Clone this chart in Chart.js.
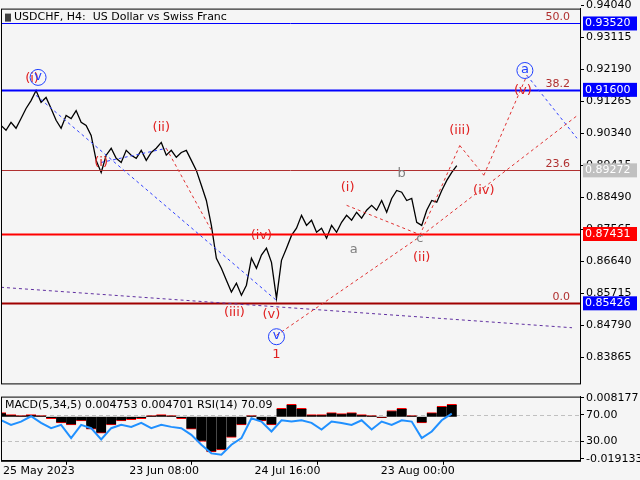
<!DOCTYPE html>
<html><head><meta charset="utf-8">
<script src="https://cdn.jsdelivr.net/npm/chart.js"></script>
<style>
body{margin:0;background:#f5f5f5;width:640px;height:480px;overflow:hidden;font-family:"DejaVu Sans"}
#c1{position:absolute;left:0;top:0}
#c2{position:absolute;left:0;top:388px}
</style></head><body>
<canvas id="c1" width="640" height="392"></canvas>
<canvas id="c2" width="640" height="92"></canvas>
<script>
const title = "USDCHF, H4:  US Dollar vs Swiss Franc";
const priceX = [];
for (let i = 0; i <= 455; i += 5) priceX.push(i);
const closes = [0.9057,0.9043,0.9066,0.9049,0.9077,0.9106,0.9129,0.9158,0.9124,0.9138,0.9106,0.9072,0.9049,0.9086,0.9077,0.9100,0.9066,0.9057,0.9028,0.8956,0.8921,0.8971,0.8991,0.8962,0.8950,0.8985,0.8971,0.8962,0.8985,0.8956,0.8979,0.8991,0.9008,0.8971,0.8985,0.8965,0.8979,0.8985,0.8956,0.8927,0.8884,0.8840,0.8768,0.8673,0.8644,0.8609,0.8575,0.8601,0.8566,0.8595,0.8673,0.8644,0.8682,0.8702,0.8661,0.8557,0.8667,0.8702,0.8739,0.8760,0.8797,0.8768,0.8783,0.8748,0.8760,0.8731,0.8768,0.8748,0.8777,0.8797,0.8783,0.8806,0.8789,0.8812,0.8826,0.8812,0.8840,0.8806,0.8846,0.8869,0.8864,0.8840,0.8846,0.8777,0.8768,0.8812,0.8840,0.8835,0.8869,0.8898,0.8921,0.8941];
const subX = [];
for (let i = 0; i <= 450; i += 10) subX.push(i);
const rsi = [62,55,60,68,58,50,55,35,55,50,33,50,55,52,58,50,55,52,50,40,25,12,10,25,35,65,60,45,62,60,62,58,48,60,58,55,62,48,60,55,62,60,35,45,62,72];
const macd = [0.002,0.001,0.0005,0.001,0.0005,-0.001,-0.003,-0.004,-0.002,-0.006,-0.008,-0.004,-0.002,-0.0015,-0.001,0.0005,0.001,0.0005,-0.001,-0.006,-0.012,-0.017,-0.016,-0.010,-0.004,0.0005,-0.002,-0.004,0.004,0.006,0.004,0.001,0.001,0.002,0.0015,0.002,0.001,0.0005,-0.0005,0.003,0.004,0.0005,-0.003,0.002,0.005,0.006];
const priceTicks = [0.94040,0.93115,0.92190,0.91265,0.90340,0.89415,0.88490,0.87565,0.86640,0.85715,0.84790,0.83865];
const timeTicks = [2,128,253,379];
const timeLabels = ["25 May 2023","23 Jun 08:00","24 Jul 16:00","23 Aug 00:00"];
const levels = [0.93520,0.91600,0.89272,0.87431,0.85426];
const levelColors = ["#0000ff","#0000ff","#b03030","#ff0000","#a00000"];
const levelWidths = [1,2,1,2,2];
const boxColors = ["#0000ff","#0000ff","#c0c0c0","#ff0000","#0000ff"];
const fibLabels = ["50.0","38.2","23.6",null,"0.0"];
const dashLines = [
 ["#3040ff",[35,0.9144],[275,0.8551]],
 ["#3040ff",[525,0.9202],[575,0.9020]],
 ["#6030a0",[0,0.8589],[570,0.8472]],
 ["#e03030",[275,0.8450],[420,0.8739]],
 ["#e03030",[420,0.8739],[575,0.9085]],
 ["#e03030",[418,0.8739],[458,0.8999]],
 ["#e03030",[458,0.8999],[482,0.8913]],
 ["#e03030",[482,0.8913],[525,0.9202]],
 ["#e03030",[165,0.8991],[210,0.8754]],
 ["#e03030",[345,0.8826],[420,0.8739]],
 ["#3040ff",[100,0.8950],[165,0.8991]]
];
const waveLabels = [
 ["(i)",31,0.9192,"#e02020"],["(i)",100,0.8950,"#e02020"],["(ii)",160,0.9050,"#e02020"],
 ["(iii)",233,0.8517,"#e02020"],["(iv)",260,0.8739,"#e02020"],["(v)",270,0.8511,"#e02020"],
 ["1",275,0.8395,"#e02020"],["(i)",346,0.8878,"#e02020"],["a",352,0.8699,"#808080"],
 ["b",400,0.8918,"#808080"],["c",418,0.8730,"#808080"],["(ii)",420,0.8675,"#e02020"],
 ["(iii)",458,0.9043,"#e02020"],["(iv)",482,0.8869,"#e02020"],["(v)",521,0.9158,"#e02020"]
];
const circleLabels = [["v",37,0.9196],["v",275,0.8446],["a",523,0.9216]];

const FONT = "11px 'DejaVu Sans'";
function fixW(ax){ax.width=60;}
const overlay = {
 id:'ov',
 afterDatasetsDraw(ch){
  const c=ch.ctx, x=ch.scales.x, y=ch.scales.y, a=ch.chartArea;
  c.save();
  c.beginPath(); c.rect(a.left,a.top,a.right-a.left,a.bottom-a.top); c.clip();
  levels.forEach((v,i)=>{const py=Math.round(y.getPixelForValue(v))+0.5;c.strokeStyle=levelColors[i];c.lineWidth=levelWidths[i];c.setLineDash([]);c.beginPath();c.moveTo(a.left,py);c.lineTo(a.right,py);c.stroke();
   if(fibLabels[i]){c.fillStyle="#b03030";c.font=FONT;c.textAlign="right";c.textBaseline="bottom";c.fillText(fibLabels[i],a.right-10,py-1);}});
  c.lineWidth=1;c.setLineDash([3,3]);
  dashLines.forEach(d=>{c.strokeStyle=d[0];c.beginPath();c.moveTo(x.getPixelForValue(d[1][0]),y.getPixelForValue(d[1][1]));c.lineTo(x.getPixelForValue(d[2][0]),y.getPixelForValue(d[2][1]));c.stroke();});
  c.setLineDash([]);
  c.font="13px 'DejaVu Sans'";c.textAlign="center";c.textBaseline="middle";
  waveLabels.forEach(w=>{c.fillStyle=w[3];c.fillText(w[0],x.getPixelForValue(w[1]),y.getPixelForValue(w[2]));});
  circleLabels.forEach(w=>{const px=x.getPixelForValue(w[1]),py=y.getPixelForValue(w[2]);c.strokeStyle="#2040ff";c.lineWidth=1;c.beginPath();c.arc(px,py,8,0,Math.PI*2);c.stroke();c.fillStyle="#2040ff";c.font="13px 'DejaVu Sans'";c.fillText(w[0],px,py-1);});
  c.restore();
  c.save();
  c.font="11px 'DejaVu Sans'";c.fillStyle="#000";c.textAlign="left";c.textBaseline="top";
  c.fillText(title,14,a.top+3);
  c.fillStyle="#404040";c.fillRect(5,a.top+5,6,8);
  c.strokeStyle="#000";c.lineWidth=1;c.strokeRect(a.left+0.5,a.top+0.5,a.right-a.left,a.bottom-a.top);
  levels.forEach((v,i)=>{const py=y.getPixelForValue(v);c.fillStyle=boxColors[i];c.fillRect(a.right+3,py-7,54,14);c.fillStyle="#fff";c.font="11px 'DejaVu Sans'";c.textBaseline="middle";c.fillText(v.toFixed(5),a.right+5,py);});
  c.restore();
 }
};
new Chart(document.getElementById('c1'),{
 type:'line',
 data:{datasets:[{data:priceX.map((v,i)=>({x:v,y:closes[i]})),borderColor:'#000',borderWidth:1.3,pointRadius:0,tension:0}]},
 options:{animation:false,responsive:false,
  layout:{padding:{left:1,top:0,bottom:2,right:0}},
  plugins:{legend:{display:false},tooltip:{enabled:false}},
  scales:{
   x:{type:'linear',min:0,max:578,display:false},
   y:{position:'right',min:0.8311,max:0.9395,afterFit:fixW,
    afterBuildTicks(ax){ax.ticks=priceTicks.map(v=>({value:v}));},
    ticks:{callback:v=>v.toFixed(5),color:'#000',font:{family:'DejaVu Sans',size:11},padding:2,autoSkip:false},
    grid:{drawOnChartArea:false,tickLength:4,color:'#000'},border:{color:'#000'}}
  }},
 plugins:[overlay]
});
const subLabels = {96:"0.008177",70:"70.00",30:"30.00",4:"-0.019133"};
const subOv = {
 id:'sov',
 beforeDatasetsDraw(ch){const c=ch.ctx,y=ch.scales.y,a=ch.chartArea;c.save();c.strokeStyle="#c0c0c0";c.setLineDash([4,3]);[70,30].forEach(v=>{const py=Math.round(y.getPixelForValue(v))+0.5;c.beginPath();c.moveTo(a.left,py);c.lineTo(a.right,py);c.stroke();});c.restore();},
 afterDatasetsDraw(ch){const c=ch.ctx,a=ch.chartArea;c.save();c.strokeStyle="#000";c.strokeRect(a.left+0.5,a.top+0.5,a.right-a.left,a.bottom-a.top);
  c.font="11px 'DejaVu Sans'";c.fillStyle="#000";c.textBaseline="top";c.fillText("MACD(5,34,5) 0.004753 0.004701 RSI(14) 70.09",5,a.top+3);c.restore();}
};
new Chart(document.getElementById('c2'),{
 data:{datasets:[
  {type:'bar',data:subX.map((v,i)=>({x:v,y:macd[i]})),yAxisID:'m',backgroundColor:'#000',borderColor:'#ff0000',borderWidth:{top:1,bottom:1,left:0,right:0},barPercentage:1,categoryPercentage:1,grouped:false,order:2},
  {type:'line',data:subX.map((v,i)=>({x:v,y:rsi[i]})),yAxisID:'y',borderColor:'#2090ff',borderWidth:2,pointRadius:0,tension:0,order:1}
 ]},
 options:{animation:false,responsive:false,
  layout:{padding:{left:1,top:0,right:0,bottom:2}},
  plugins:{legend:{display:false},tooltip:{enabled:false}},
  scales:{
   x:{type:'linear',min:0,max:578,offset:false,
    afterBuildTicks(ax){ax.ticks=timeTicks.map(v=>({value:v}));},
    ticks:{callback:(v,i)=>timeLabels[i],align:'start',color:'#000',font:{family:'DejaVu Sans',size:11},maxRotation:0,autoSkip:false,padding:0},
    grid:{drawOnChartArea:false,tickLength:4,color:'#000'},border:{color:'#000'}},
   y:{position:'right',min:0.8,max:97.7,afterFit:fixW,
    afterBuildTicks(ax){ax.ticks=[96,70,30,4].map(v=>({value:v}));},
    ticks:{callback:v=>subLabels[v],color:'#000',font:{family:'DejaVu Sans',size:11},padding:2,autoSkip:false},
    grid:{drawOnChartArea:false,tickLength:4,color:'#000'},border:{color:'#000'}},
   m:{display:false,min:-0.0213,max:0.0097}
  }},
 plugins:[subOv]
});
</script></body></html>
